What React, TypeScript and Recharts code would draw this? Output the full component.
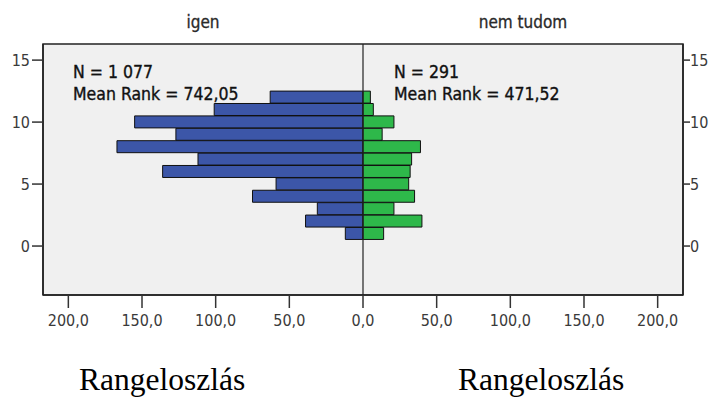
import React from "react";
import {
  BarChart,
  Bar,
  XAxis,
  YAxis,
  CartesianGrid,
  ReferenceLine,
  ReferenceArea,
} from "recharts";

// rank bins, bottom to top
const bins = [1, 2, 3, 4, 5, 6, 7, 8, 9, 10, 11, 12];
const igenCounts = [12, 39, 31, 75, 59, 136, 112, 167, 127, 155, 101, 63];
const nemTudomCounts = [14, 40, 21, 35, 31, 32, 33, 39, 13, 21, 7, 5];

const xTicks = [-200, -150, -100, -50, 0, 50, 100, 150, 200];
const yTicks = [0, 5, 10, 15];

const X_MAX = 217.2;
const Y_MIN = -3.95;
const Y_MAX = 16.3;

const SPSS_FONT = "'DejaVu Sans Condensed', 'DejaVu Sans', sans-serif";

const data = bins.map((bin, i) => ({
  bin,
  igen: -igenCounts[i],
  nem: nemTudomCounts[i],
}));

const fmtX = (v: number) => Math.abs(v).toFixed(1).replace(".", ",");

export default function App() {
  const tickStyle = { fontSize: 16, fill: "#3a3a3a", fontFamily: SPSS_FONT, fontStretch: "condensed" };
  const noteStyle: React.CSSProperties = {
    fontSize: 17.5,
    fill: "#111",
    stroke: "#111",
    strokeWidth: 0.35,
    fontFamily: SPSS_FONT,
    fontStretch: "condensed",
  };
  const titleStyle: React.CSSProperties = {
    fontSize: 17,
    fill: "#2a2a2a",
    stroke: "#2a2a2a",
    strokeWidth: 0.3,
    fontFamily: SPSS_FONT,
    fontStretch: "condensed",
  };
  const bottomStyle: React.CSSProperties = {
    fontSize: 31.5,
    fill: "#000",
    fontFamily: "'Liberation Serif', 'Times New Roman', serif",
  };

  return (
    <div style={{ position: "absolute", left: 0, top: 0, width: 710, height: 398, background: "#fff" }}>
      <BarChart
        width={710}
        height={398}
        layout="vertical"
        data={data}
        stackOffset="sign"
        barCategoryGap={0}
        margin={{ top: 44, right: 0, bottom: 63, left: 0 }}
      >
        <CartesianGrid fill="#f0f0f0" horizontal={false} vertical={false} />
        <XAxis
          type="number"
          domain={[-X_MAX, X_MAX]}
          ticks={xTicks}
          allowDataOverflow
          tickFormatter={fmtX}
          height={40}
          tickSize={13}
          tickMargin={7}
          tick={tickStyle}
          axisLine={{ stroke: "#222", strokeWidth: 1.5 }}
          tickLine={{ stroke: "#333", strokeWidth: 1.5 }}
        />
        <YAxis
          yAxisId="left"
          type="number"
          dataKey="bin"
          reversed
          domain={[Y_MIN, Y_MAX]}
          ticks={yTicks}
          allowDataOverflow
          width={43}
          tickSize={11}
          tickMargin={2}
          tick={tickStyle}
          axisLine={{ stroke: "#222", strokeWidth: 1.5 }}
          tickLine={{ stroke: "#333", strokeWidth: 1.5 }}
        />
        <YAxis
          yAxisId="right"
          orientation="right"
          type="number"
          dataKey="bin"
          reversed
          domain={[Y_MIN, Y_MAX]}
          ticks={yTicks}
          allowDataOverflow
          width={27}
          tickSize={7}
          tickMargin={0}
          tick={tickStyle}
          axisLine={{ stroke: "#222", strokeWidth: 1.5 }}
          tickLine={{ stroke: "#333", strokeWidth: 1.5 }}
        />
        <Bar
          yAxisId="left"
          dataKey="igen"
          stackId="s"
          fill="#3c56a8"
          stroke="#111"
          strokeWidth={1}
          isAnimationActive={false}
        />
        <Bar
          yAxisId="left"
          dataKey="nem"
          stackId="s"
          fill="#2eb84a"
          stroke="#111"
          strokeWidth={1}
          isAnimationActive={false}
        />
        <ReferenceLine yAxisId="left" x={0} stroke="#222" strokeWidth={1.2} />
        <ReferenceArea
          yAxisId="left"
          x1={-X_MAX}
          x2={X_MAX}
          y1={Y_MIN}
          y2={Y_MAX}
          fill="none"
          stroke="#222"
          strokeWidth={1.5}
        />
      </BarChart>
      <svg
        width={710}
        height={398}
        style={{ position: "absolute", left: 0, top: 0, pointerEvents: "none" }}
      >
        <text x={203} y={28} textAnchor="middle" style={titleStyle}>igen</text>
        <text x={523} y={28} textAnchor="middle" style={titleStyle}>nem tudom</text>
        <text x={73} y={77.5} style={noteStyle}>N = 1 077</text>
        <text x={73} y={100} style={noteStyle}>Mean Rank = 742,05</text>
        <text x={394} y={77.5} style={noteStyle}>N = 291</text>
        <text x={394} y={100} style={noteStyle}>Mean Rank = 471,52</text>
        <text x={79} y={390} style={bottomStyle}>Rangeloszlás</text>
        <text x={458} y={390} style={bottomStyle}>Rangeloszlás</text>
      </svg>
    </div>
  );
}
